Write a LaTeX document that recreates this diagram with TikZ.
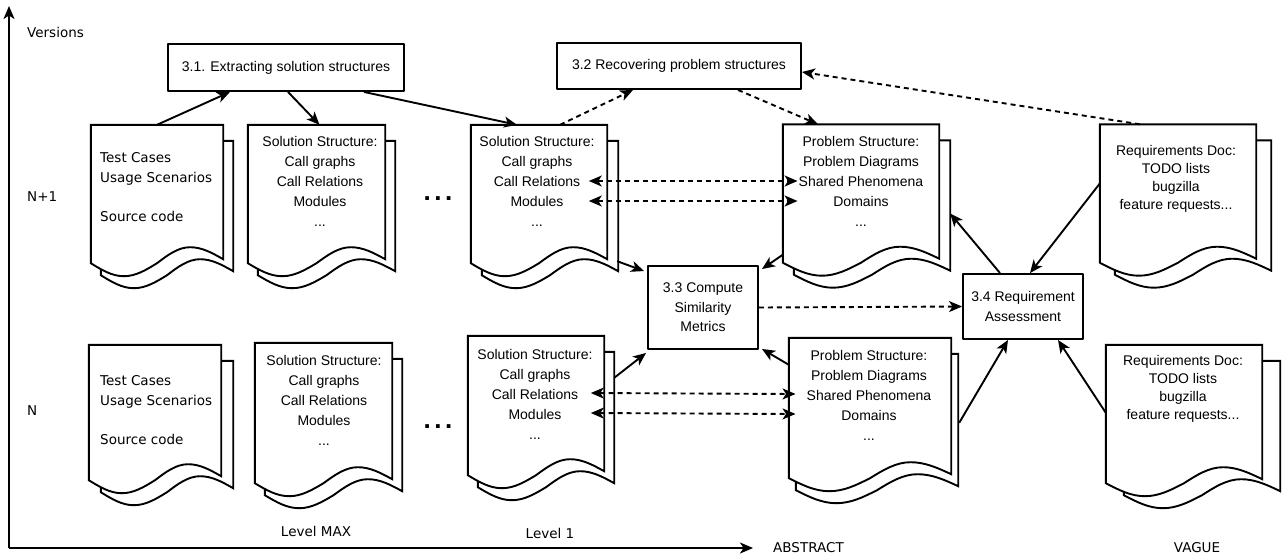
\documentclass[tikz,border=0pt]{standalone}
\usepackage{fontspec}
\setmainfont{Liberation Sans}
\newfontfamily\axisfont{DejaVu Sans}
\usetikzlibrary{arrows.meta,backgrounds,calc}

% document sheet: back page first, then front page
\newcommand\docoutline[2]{%
  \foreach \bx/\bt/\bb in {#2/16/12, 0/0/0}{%
    \draw[docline] let \p1=(#1.north west), \p2=(#1.south east), \n1={(\x2-\x1)/4} in
      (\x1+\bx pt,\y1-\bt pt) -- (\x2+\bx pt,\y1-\bt pt) -- (\x2+\bx pt,\y2-\bb pt+4pt)
      sin (\x2+\bx pt-\n1,\y2-\bb pt+16pt) cos (\x2+\bx pt-2*\n1,\y2-\bb pt)
      sin (\x1+\bx pt+\n1,\y2-\bb pt-13pt) cos (\x1+\bx pt,\y2-\bb pt) -- cycle;
  }}

\tikzset{
  docline/.style={line width=1.9pt, fill=white},
  docpage/.style={draw=none, inner sep=0pt, minimum height=138pt},
  doctext/.style={align=center, inner sep=0pt, font=\fontsize{14}{20}\selectfont},
  reqtext/.style={align=center, inner sep=0pt, font=\fontsize{14}{18}\selectfont},
  srctext/.style={align=left, inner sep=0pt, anchor=west, font=\axisfont\fontsize{13.5}{20}\selectfont},
  stepbox/.style={draw, line width=1.9pt, fill=white, align=center, inner sep=0pt,
    font=\fontsize{14}{19.5}\selectfont},
  axislabel/.style={inner sep=0pt, font=\axisfont\fontsize{13.5}{16}\selectfont},
  gapdots/.style={inner sep=0pt, font=\fontsize{26}{26}\selectfont\bfseries},
  tip/.style={-{Stealth[length=13pt,width=11pt,inset=3.5pt]}},
  flow/.style={tip, line width=1.9pt},
  dflow/.style={tip, line width=1.9pt, dash pattern=on 5pt off 4pt},
  both/.style={{Stealth[length=13pt,width=11pt,inset=3.5pt]}-{Stealth[length=13pt,width=11pt,inset=3.5pt]},
    line width=1.9pt, dash pattern=on 5pt off 4pt},
}

\begin{document}
\begin{tikzpicture}[x=1pt, y=-1pt, line join=round]
\useasboundingbox (0,0) rectangle (1282,558);

% axes
\coordinate (orig) at (9,548);
\coordinate (vtip) at (9,6);
\coordinate (htip) at (753,548);
\draw[flow] (orig) -- (vtip);
\draw[flow] (orig) -- (htip);
\node[axislabel, anchor=west] (versions) at (27,32) {Versions};
\node[axislabel, anchor=west] (rowtop) at (27,197) {N+1};
\node[axislabel, anchor=west] (rowbot) at (27,411) {N};
\node[axislabel] (lvlmax) at (316,531) {Level MAX};
\node[axislabel] (lvlone) at (550,533) {Level 1};
\node[axislabel, anchor=west] (abstract) at (773,548) {ABSTRACT};
\node[axislabel] (vague) at (1197,548) {VAGUE};

% process steps
\node[stepbox, minimum width=236pt, minimum height=47pt] (extract) at (286,67.5) {3.1. Extracting solution structures};
\node[stepbox, minimum width=244pt, minimum height=46pt] (recover) at (679,66) {3.2 Recovering problem structures};
\node[stepbox, minimum width=110pt, minimum height=83pt] (similar) at (703,307.5) {3.3 Compute\\Similarity\\Metrics};
\node[stepbox, minimum width=120pt, minimum height=65pt] (assess) at (1023,306.5) {3.4 Requirement\\Assessment};

% documents, version N+1
\node[docpage, minimum width=132pt] (src1) at (157,194) {};
\node[docpage, minimum width=137pt] (lmax1) at (316.5,194) {};
\node[docpage, minimum width=136pt] (lone1) at (539,194) {};
\node[docpage, minimum width=156pt] (prob1) at (861,193.5) {};
\node[docpage, minimum width=156pt] (req1) at (1178,193.5) {};
\node[srctext] (src1t) at (100,187) {Test Cases\\Usage Scenarios\\[19pt]Source code};
\node[doctext] (lmax1t) at (320,181) {Solution Structure:\\Call graphs\\Call Relations\\Modules\\...};
\node[doctext] (lone1t) at (537,181) {Solution Structure:\\Call graphs\\Call Relations\\Modules\\...};
\node[doctext] (prob1t) at (861,181) {Problem Structure:\\Problem Diagrams\\Shared Phenomena\\Domains\\...};
\node[reqtext] (req1t) at (1176,179) {Requirements Doc:\\TODO lists\\bugzilla\\feature requests...};

% documents, version N
\node[docpage, minimum width=132pt, minimum height=135pt] (src0) at (155,412.5) {};
\node[docpage, minimum width=137pt, minimum height=140pt] (lmax0) at (323.5,413) {};
\node[docpage, minimum width=136pt, minimum height=139pt] (lone0) at (536,405.5) {};
\node[docpage, minimum width=162pt, minimum height=140pt] (prob0) at (870,408) {};
\node[docpage, minimum width=156pt] (req0) at (1184,414) {};
\node[srctext] (src0t) at (100,410) {Test Cases\\Usage Scenarios\\[19pt]Source code};
\node[doctext] (lmax0t) at (324,400.5) {Solution Structure:\\Call graphs\\Call Relations\\Modules\\...};
\node[doctext] (lone0t) at (535,394) {Solution Structure:\\Call graphs\\Call Relations\\Modules\\...};
\node[doctext] (prob0t) at (869,395) {Problem Structure:\\Problem Diagrams\\Shared Phenomena\\Domains\\...};
\node[reqtext] (req0t) at (1183,389) {Requirements Doc:\\TODO lists\\bugzilla\\feature requests...};

\node[gapdots] (gap1) at (438,199) {.\kern3.5pt.\kern3.5pt.};
\node[gapdots] (gap0) at (438,427) {.\kern3.5pt.\kern3.5pt.};

\begin{scope}[on background layer]
  \docoutline{src1}{10}
  \docoutline{lmax1}{10}
  \docoutline{lone1}{11}
  \docoutline{prob1}{11}
  \docoutline{req1}{15}
  \docoutline{src0}{12}
  \docoutline{lmax0}{10}
  \docoutline{lone0}{10}
  \docoutline{prob0}{7}
  \docoutline{req0}{18}
\end{scope}

% connectors
\draw[flow] (src1.north) -- ([xshift=-56]extract.south);
\draw[flow] ([xshift=2]extract.south) -- ([xshift=3]lmax1.north);
\draw[flow] ([xshift=78]extract.south) -- ([xshift=-22]lone1.north);
\draw[dflow] ([xshift=21]lone1.north) -- ([xshift=-46]recover.south);
\draw[dflow] ([xshift=59]recover.south) -- ([xshift=-43]prob1.north);
\draw[dflow] ([xshift=-38]req1.north) -- ([shift={(0,6)}]recover.east);
\draw[both] ([shift={(-6,0)}]lone1t.east) -- ([shift={(-1,0)}]prob1t.west);
\draw[both] ([shift={(-6,20)}]lone1t.east) -- ([shift={(-1,20)}]prob1t.west);
\draw[both] ([shift={(-2,-1)}]lone0t.east) -- ([shift={(-11,-1)}]prob0t.west);
\draw[both] ([shift={(-2,19)}]lone0t.east) -- ([shift={(-11,19)}]prob0t.west);
\draw[flow] ([shift={(10,-2)}]lone1.south east) -- ([shift={(-3,6)}]similar.north west);
\draw[flow] ([shift={(0,-8)}]prob1.south west) -- ([shift={(3,4)}]similar.north east);
\draw[dflow] (similar.east) -- (assess.west);
\draw[flow] ([xshift=-23]assess.north) -- ([shift={(11,20)}]prob1.east);
\draw[flow] ([shift={(0,-10)}]req1.west) -- ([xshift=7]assess.north);
\draw[flow] ([shift={(10,42)}]lone0.north east) -- ([shift={(-1,3)}]similar.south west);
\draw[flow] ([shift={(0,27)}]prob0.north west) -- ([shift={(3,-1)}]similar.south east);
\draw[flow] ([shift={(8,85)}]prob0.north east) -- ([xshift=-15]assess.south);
\draw[flow] ([shift={(0,68)}]req0.north west) -- ([xshift=35]assess.south);
\end{tikzpicture}
\end{document}
